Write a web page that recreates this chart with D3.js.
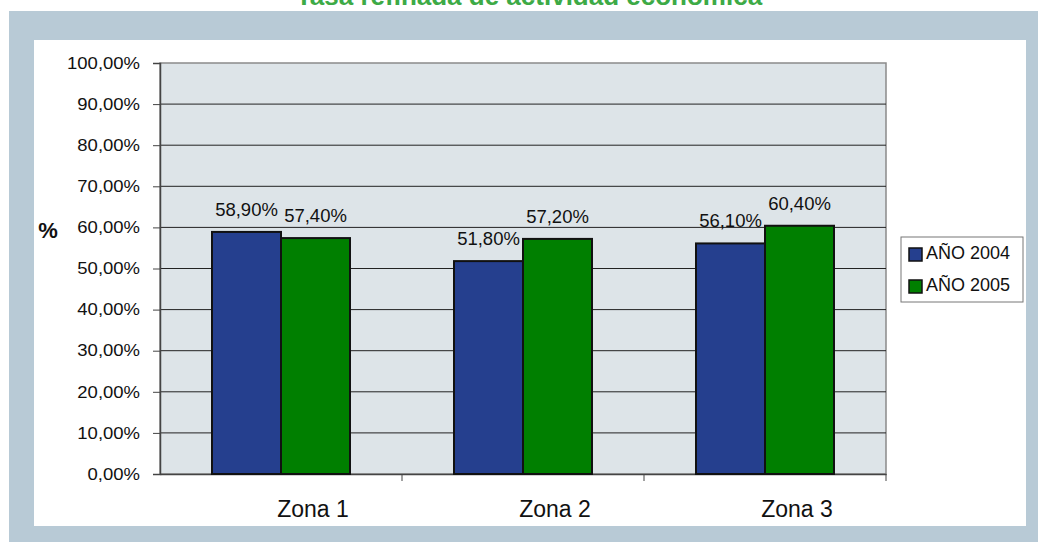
<!DOCTYPE html>
<html>
<head>
<meta charset="utf-8">
<script src="https://cdn.jsdelivr.net/npm/d3@7"></script>
<style>
  body { margin: 0; background: #fff; }
  svg { display: block; font-family: "Liberation Sans", Arial, sans-serif; }
</style>
</head>
<body>
<svg id="chart" width="1038" height="542"></svg>
<script>
// Chart values
const zonas = ['Zona 1', 'Zona 2', 'Zona 3'];
const series = ['AÑO 2004', 'AÑO 2005'];
const valores2004 = [58.9, 51.8, 56.1];
const valores2005 = [57.4, 57.2, 60.4];
const yTicks = [0, 10, 20, 30, 40, 50, 60, 70, 80, 90, 100];
const colores = ['#253f8e', '#007f00'];

const fontFamily = '"Liberation Sans", Arial, sans-serif';
const svg = d3.select('#chart');

// Outer panel and white chart area
svg.append('rect').attr('x', 9).attr('y', 11).attr('width', 1029).attr('height', 531).attr('fill', '#b8cad6');
svg.append('rect').attr('x', 34).attr('y', 40).attr('width', 992).attr('height', 486).attr('fill', '#fff');

// Title, cut at the top edge like in the picture
svg.append('text')
    .attr('x', 529).attr('y', 5)
    .attr('text-anchor', 'middle')
    .attr('font-size', 26).attr('font-weight', 'bold')
    .attr('fill', '#3daa46')
    .text('Tasa refinada de actividad económica');

const plot = { left: 160, right: 886, top: 63, bottom: 474 };

const x = d3.scaleBand().domain(zonas).range([plot.left, plot.right]);
const xs = d3.scaleBand().domain(series).range([0, 138]);
const y = d3.scaleLinear().domain([0, 100]).range([plot.bottom, plot.top]);

// Plot background
svg.append('rect')
    .attr('x', plot.left).attr('y', plot.top)
    .attr('width', plot.right - plot.left).attr('height', plot.bottom - plot.top)
    .attr('fill', '#dde4e8').attr('stroke', '#8a8a8a').attr('stroke-width', 1.5);

// Gridlines
svg.append('g').selectAll('line')
    .data(yTicks.filter(d => d > 0 && d < 100))
    .join('line')
    .attr('x1', plot.left).attr('x2', plot.right)
    .attr('y1', d => y(d)).attr('y2', d => y(d))
    .attr('stroke', '#222').attr('stroke-width', 1);

// Y axis
const fmt = d => d3.format('.2f')(d).replace('.', ',') + '%';
const yAxis = svg.append('g')
    .attr('transform', `translate(${plot.left},0)`)
    .call(d3.axisLeft(y).tickValues(yTicks).tickFormat(fmt).tickSize(7).tickPadding(13));
yAxis.select('.domain').attr('stroke', '#444').attr('stroke-width', 1.5);
yAxis.selectAll('.tick line').attr('stroke', '#444');
yAxis.selectAll('.tick text')
    .attr('font-size', 16.5).attr('fill', '#111').attr('font-family', fontFamily)
    .each(function () {
        // the reference labels are a bit wider than plain Arial
        const len = this.getComputedTextLength();
        d3.select(this).attr('textLength', len * 1.12).attr('lengthAdjust', 'spacingAndGlyphs');
    });

// X axis
const xAxis = svg.append('g')
    .attr('transform', `translate(0,${plot.bottom})`)
    .call(d3.axisBottom(x).tickSize(0).tickPadding(27));
xAxis.select('.domain').attr('stroke', '#444').attr('stroke-width', 1.5);
xAxis.selectAll('.tick text')
    .attr('font-size', 23).attr('fill', '#111').attr('font-family', fontFamily)
    .attr('dx', 32);
xAxis.append('g').selectAll('line')
    .data(zonas)
    .join('line')
    .attr('x1', d => x(d) + x.bandwidth()).attr('x2', d => x(d) + x.bandwidth())
    .attr('y1', 0).attr('y2', 7)
    .attr('stroke', '#444');

// Bars
const data = zonas.flatMap((z, i) => [
    { zona: z, serie: series[0], valor: valores2004[i] },
    { zona: z, serie: series[1], valor: valores2005[i] }
]);
const barOffset = (x.bandwidth() - xs.range()[1]) / 2;

svg.append('g').selectAll('rect')
    .data(data)
    .join('rect')
    .attr('x', d => x(d.zona) + barOffset + xs(d.serie))
    .attr('y', d => y(d.valor))
    .attr('width', xs.bandwidth())
    .attr('height', d => y(0) - y(d.valor))
    .attr('fill', d => colores[series.indexOf(d.serie)])
    .attr('stroke', '#111').attr('stroke-width', 2);

// Data labels
svg.append('g').selectAll('text')
    .data(data)
    .join('text')
    .attr('x', d => x(d.zona) + barOffset + xs(d.serie) + xs.bandwidth() / 2)
    .attr('y', d => y(d.valor) - 16)
    .attr('text-anchor', 'middle')
    .attr('font-size', 18.5).attr('fill', '#111')
    .text(d => fmt(d.valor));

// "%" axis label
svg.append('text')
    .attr('x', 48).attr('y', 238)
    .attr('text-anchor', 'middle')
    .attr('font-size', 22).attr('font-weight', 'bold').attr('fill', '#111')
    .text('%');

// Legend
const legend = svg.append('g').attr('transform', 'translate(901,237)');
legend.append('rect').attr('width', 122).attr('height', 65).attr('fill', '#fff').attr('stroke', '#777');
const item = legend.selectAll('g.item')
    .data(series)
    .join('g')
    .attr('class', 'item')
    .attr('transform', (d, i) => `translate(8,${11 + i * 32})`);
item.append('rect')
    .attr('width', 13).attr('height', 13)
    .attr('fill', (d, i) => colores[i]).attr('stroke', '#111').attr('stroke-width', 1.5);
item.append('text')
    .attr('x', 17).attr('y', 11)
    .attr('font-size', 18).attr('fill', '#111')
    .text(d => d);
</script>
</body>
</html>
